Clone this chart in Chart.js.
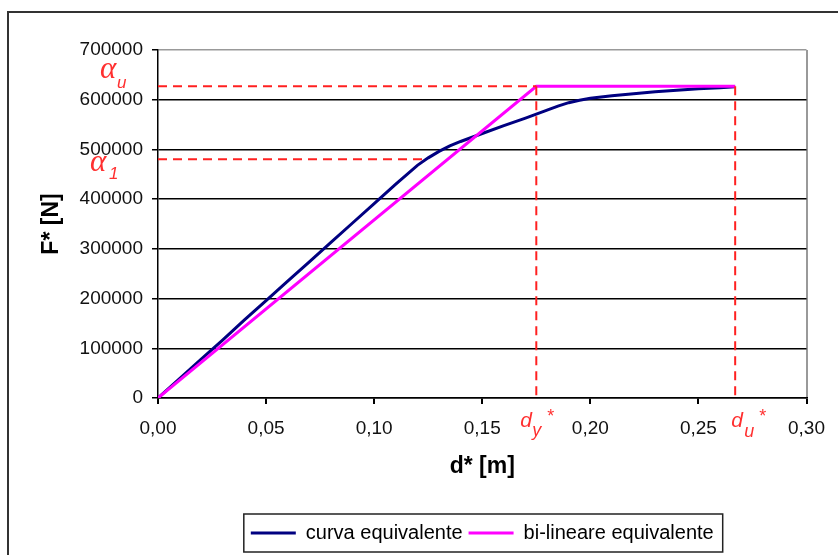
<!DOCTYPE html>
<html>
<head>
<meta charset="utf-8">
<script src="https://cdn.jsdelivr.net/npm/chart.js@4"></script>
<style>
html, body { margin: 0; padding: 0; background: #fff; }
#wrap { width: 838px; height: 555px; }
</style>
</head>
<body>
<div id="wrap"><canvas id="chart" width="838" height="555"></canvas></div>
<script>
// curva equivalente (d* in m, F* in N)
let curveD = [0, 0.01, 0.02, 0.03, 0.04, 0.05, 0.06, 0.07, 0.08, 0.09, 0.10, 0.11, 0.12, 0.125, 0.13, 0.135,
  0.14, 0.15, 0.16, 0.17, 0.175, 0.18, 0.185, 0.19, 0.195, 0.20, 0.21, 0.22, 0.23, 0.24, 0.25, 0.26, 0.267];
let curveF = [0, 39000, 78000, 117000, 157000, 196000, 235000, 274000, 313000, 352000, 391000, 430000, 468000, 483000, 496000, 507000,
  516000, 532000, 548000, 563000, 571000, 579000, 587000, 594000, 599000, 603000, 608000, 612000, 616000, 619000, 622000, 624000, 626000];

// bi-lineare equivalente
let bilinD = [0, 0.175, 0.267];
let bilinF = [0, 627000, 627000];

// reference values
let dy = 0.175, du = 0.267;
let alphaU = 627000, alpha1 = 480000, d1 = 0.123;

// ticks
let xTickLabels = ["0,00", "0,05", "0,10", "0,15", "0,20", "0,25", "0,30"];
let yTickLabels = ["0", "100000", "200000", "300000", "400000", "500000", "600000", "700000"];

Chart.defaults.font.family = "'Liberation Sans', Arial, sans-serif";
Chart.defaults.color = "#111";

const toXY = (xs, ys) => xs.map((x, i) => ({x: x, y: ys[i]}));
const redDash = {borderColor: "#ff2020", borderWidth: 2, borderDash: [9, 6], pointRadius: 0, fill: false, order: 0};

const frame = {
  id: "frame",
  beforeDraw(chart) {
    const ctx = chart.ctx;
    ctx.save();
    ctx.fillStyle = "#fff";
    ctx.fillRect(0, 0, chart.width, chart.height);
    ctx.strokeStyle = "#333";
    ctx.lineWidth = 2;
    ctx.beginPath();
    ctx.moveTo(8, chart.height);
    ctx.lineTo(8, 12);
    ctx.lineTo(chart.width, 12);
    ctx.stroke();
    ctx.restore();
  },
  afterDraw(chart) {
    const ctx = chart.ctx;
    const xs = chart.scales.x, ys = chart.scales.y;
    const area = chart.chartArea;
    ctx.save();
    // legend frame
    const hb = chart.legend.legendHitBoxes;
    if (hb && hb.length) {
      const l = Math.min(...hb.map(h => h.left)) - 7;
      const r = Math.max(...hb.map(h => h.left + h.width)) + 9;
      ctx.strokeStyle = "#222";
      ctx.lineWidth = 1.5;
      ctx.strokeRect(l, chart.legend.top - 3, r - l, chart.legend.height + 2);
    }
    // red labels
    ctx.fillStyle = "#ff3030";
    ctx.textBaseline = "alphabetic";
    ctx.textAlign = "left";
    const yu = ys.getPixelForValue(alphaU), y1 = ys.getPixelForValue(alpha1);
    ctx.font = "italic 31px 'Liberation Serif'";
    ctx.fillText("α", area.left - 58, yu - 8);
    ctx.fillText("α", area.left - 68, y1 + 12);
    ctx.font = "italic 17px 'Liberation Sans'";
    ctx.fillText("u", area.left - 41, yu + 2);
    ctx.fillText("1", area.left - 49, y1 + 20);
    const b = area.bottom;
    const xdy = xs.getPixelForValue(dy), xdu = xs.getPixelForValue(du);
    ctx.font = "italic 21px 'Liberation Sans'";
    ctx.fillText("d", xdy - 16, b + 29);
    ctx.fillText("d", xdu - 4, b + 29);
    ctx.font = "italic 18px 'Liberation Sans'";
    ctx.fillText("y", xdy - 4, b + 38);
    ctx.fillText("u", xdu + 9, b + 39);
    ctx.font = "18px 'Liberation Sans'";
    ctx.fillText("*", xdy + 11, b + 24);
    ctx.fillText("*", xdu + 24, b + 24);
    ctx.restore();
  }
};

const chart = new Chart(document.getElementById("chart"), {
  type: "line",
  data: {
    datasets: [
      {
        label: "curva equivalente",
        data: toXY(curveD, curveF),
        borderColor: "#000080",
        backgroundColor: "#000080",
        borderWidth: 3,
        pointRadius: 0,
        tension: 0,
        order: 2
      },
      {
        label: "bi-lineare equivalente",
        data: toXY(bilinD, bilinF),
        borderColor: "#ff00ff",
        backgroundColor: "#ff00ff",
        borderWidth: 3,
        pointRadius: 0,
        order: 1
      },
      Object.assign({label: "au", data: [{x: 0, y: alphaU}, {x: dy, y: alphaU}]}, redDash),
      Object.assign({label: "a1", data: [{x: 0, y: alpha1}, {x: d1, y: alpha1}]}, redDash),
      Object.assign({label: "dy", data: [{x: dy, y: alphaU}, {x: dy, y: 0}]}, redDash),
      Object.assign({label: "du", data: [{x: du, y: alphaU}, {x: du, y: 0}]}, redDash)
    ]
  },
  options: {
    responsive: false,
    animation: false,
    layout: {padding: {left: 34, top: 50, right: 29, bottom: 2}},
    plugins: {
      tooltip: {enabled: false},
      legend: {
        position: "bottom",
        fullSize: false,
        labels: {
          filter: item => item.datasetIndex < 2,
          sort: (a, b) => a.datasetIndex - b.datasetIndex,
          font: {size: 20},
          color: "#000",
          boxWidth: 45,
          boxHeight: 3,
          padding: 6,
          generateLabels(chart) {
            return Chart.defaults.plugins.legend.labels.generateLabels(chart).map(it => {
              it.lineWidth = 0;
              return it;
            });
          }
        }
      }
    },
    scales: {
      x: {
        type: "linear",
        min: 0,
        max: 0.3,
        ticks: {
          stepSize: 0.05,
          padding: 13,
          font: {size: 19},
          maxRotation: 0,
          callback: (v, i) => xTickLabels[i]
        },
        grid: {
          color: c => (c.index === xTickLabels.length - 1 ? "#999" : "transparent"),
          lineWidth: 2,
          tickColor: "#000",
          tickLength: 6
        },
        border: {color: "#000", width: 1.5},
        title: {display: true, text: "d* [m]", font: {size: 23, weight: "bold"}, color: "#000", padding: {top: 4, bottom: 37}},
        afterFit(scale) { scale.height = 119; }
      },
      y: {
        min: 0,
        max: 700000,
        ticks: {
          stepSize: 100000,
          padding: 9,
          font: {size: 19},
          callback: (v, i) => yTickLabels[i]
        },
        grid: {
          color: c => (c.index === yTickLabels.length - 1 ? "#999" : "#000"),
          lineWidth: 1.5,
          tickColor: "#000",
          tickLength: 6
        },
        border: {color: "#000", width: 1.5},
        title: {display: true, text: "F* [N]", font: {size: 23, weight: "bold"}, color: "#000"},
        afterFit(scale) { scale.width = 124; }
      }
    }
  },
  plugins: [frame]
});
</script>
</body>
</html>
